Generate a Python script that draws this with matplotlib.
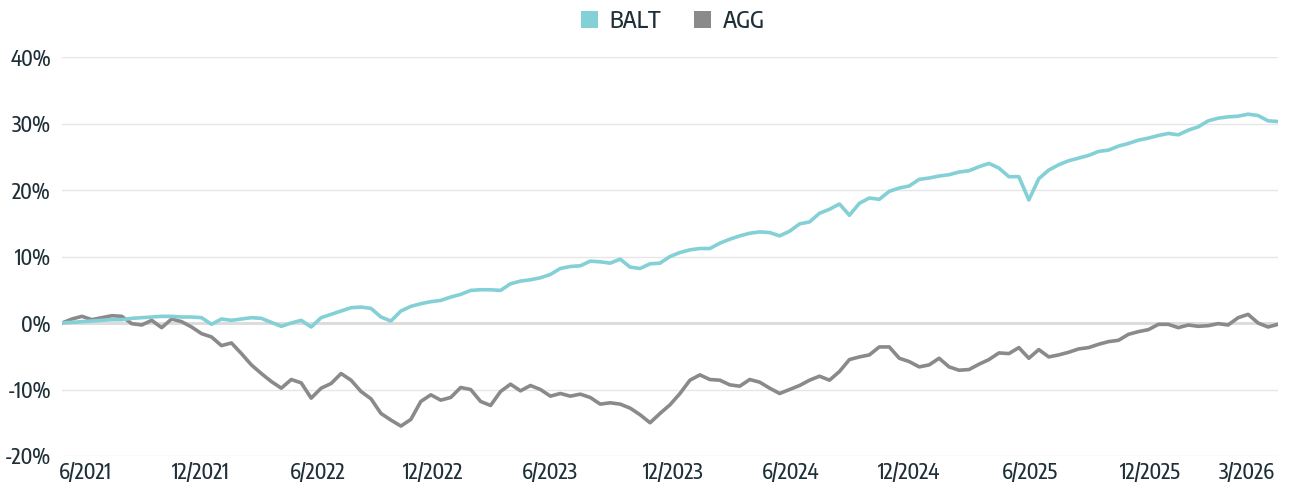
import matplotlib
matplotlib.use("Agg")
import matplotlib.pyplot as plt
from matplotlib import font_manager
import numpy as np
from matplotlib.patches import Patch

# ---- data (cumulative return, %) sampled evenly across the period ----
balt = [0.0, 0.1, 0.2, 0.3, 0.4, 0.5, 0.5, 0.7, 0.8, 0.9,
        1.0, 1.0, 0.9, 0.9, 0.8, -0.2, 0.6, 0.4, 0.6, 0.8,
        0.7, 0.1, -0.5, 0.0, 0.4, -0.6, 0.8, 1.3, 1.8, 2.3,
        2.4, 2.2, 0.9, 0.3, 1.8, 2.5, 2.9, 3.2, 3.4, 3.9,
        4.3, 4.9, 5.0, 5.0, 4.9, 5.9, 6.3, 6.5, 6.8, 7.3,
        8.2, 8.5, 8.6, 9.3, 9.2, 9.0, 9.6, 8.4, 8.2, 8.9,
        9.0, 10.0, 10.6, 11.0, 11.2, 11.2, 12.0, 12.6, 13.1, 13.5,
        13.7, 13.6, 13.1, 13.8, 14.9, 15.2, 16.5, 17.1, 17.9, 16.2,
        18.0, 18.8, 18.6, 19.8, 20.3, 20.6, 21.6, 21.8, 22.1, 22.3,
        22.7, 22.9, 23.5, 24.0, 23.3, 22.0, 22.0, 18.5, 21.7, 23.0,
        23.8, 24.4, 24.8, 25.2, 25.8, 26.0, 26.6, 27.0, 27.5, 27.8,
        28.2, 28.5, 28.3, 29.0, 29.5, 30.4, 30.8, 31.0, 31.1, 31.4,
        31.2, 30.4, 30.3]

agg = [0.0, 0.6, 1.0, 0.5, 0.8, 1.1, 1.0, -0.1, -0.3, 0.4,
       -0.7, 0.6, 0.2, -0.6, -1.6, -2.1, -3.4, -3.0, -4.6, -6.3,
       -7.6, -8.8, -9.8, -8.5, -9.0, -11.3, -9.8, -9.1, -7.6, -8.6,
       -10.3, -11.4, -13.6, -14.6, -15.5, -14.5, -11.8, -10.8, -11.6, -11.2,
       -9.7, -10.0, -11.8, -12.4, -10.3, -9.2, -10.2, -9.4, -10.0, -11.0,
       -10.6, -11.0, -10.7, -11.2, -12.2, -12.0, -12.2, -12.8, -13.8, -15.0,
       -13.6, -12.3, -10.6, -8.6, -7.8, -8.5, -8.6, -9.3, -9.5, -8.5,
       -8.9, -9.8, -10.6, -10.0, -9.4, -8.6, -8.0, -8.6, -7.3, -5.5,
       -5.1, -4.8, -3.6, -3.6, -5.3, -5.8, -6.6, -6.3, -5.3, -6.6,
       -7.1, -7.0, -6.2, -5.5, -4.5, -4.6, -3.7, -5.3, -4.0, -5.1,
       -4.8, -4.4, -3.9, -3.7, -3.2, -2.8, -2.6, -1.7, -1.3, -1.0,
       -0.2, -0.2, -0.7, -0.3, -0.5, -0.4, -0.1, -0.3, 0.8, 1.3,
       0.0, -0.6, -0.2]

tick_labels = ["6/2021", "12/2021", "6/2022", "12/2022", "6/2023", "12/2023",
               "6/2024", "12/2024", "6/2025", "12/2025", "3/2026"]
tick_pos = [2.3, 13.95, 25.7, 37.2, 48.95, 61.3, 73.15, 85.0, 97.1, 109.15, 118.9]
y_ticks = [-20, -10, 0, 10, 20, 30, 40]

series_names = ["BALT", "AGG"]
colors = ["#83D0D6", "#8A8A8A"]

# ---- pick a condensed sans font if one is installed (prefer medium weight) ----
def wnum(w):
    names = {"normal": 400, "regular": 400, "book": 400, "medium": 500,
             "semibold": 600, "demibold": 600, "bold": 700}
    try:
        return int(w)
    except (TypeError, ValueError):
        return names.get(str(w).lower(), 400)

cands = []
for f in font_manager.fontManager.ttflist:
    nm = f.name.lower()
    is_cond = ("narrow" in nm or "condensed" in nm or
               str(f.stretch) in ("condensed", "semi-condensed"))
    if is_cond and "sans" in nm and f.style == "normal" and "extra" not in f.fname.lower() \
            and "ultra" not in f.fname.lower():
        cands.append(f)
cond = None
for pref in (500, 600, 400):
    for f in cands:
        if wnum(f.weight) == pref:
            cond = f
            break
    if cond is not None:
        break

if cond is not None:
    tick_fp = font_manager.FontProperties(fname=cond.fname, size=15)
    leg_fp = font_manager.FontProperties(fname=cond.fname, size=17)
else:
    tick_fp = font_manager.FontProperties(family=["Lato", "DejaVu Sans"], size=14)
    leg_fp = font_manager.FontProperties(family=["Lato", "DejaVu Sans"], size=16)

text_color = "#1E2F38"

fig = plt.figure(figsize=(12.95, 4.9), dpi=100)
ax = fig.add_axes([62 / 1295, 1 - 456 / 490, (1278 - 62) / 1295, (456 - 57) / 490])

x = np.arange(len(balt))
ax.plot(x, agg, color=colors[1], lw=2.6, zorder=3, solid_joinstyle="round")
ax.plot(x, balt, color=colors[0], lw=2.6, zorder=4, solid_joinstyle="round")

ax.set_xlim(0, len(balt) - 1)
ax.set_ylim(-20, 40)
ax.set_yticks(y_ticks)
ax.set_yticklabels([f"{v}%" for v in y_ticks], fontproperties=tick_fp, color=text_color)
ax.set_xticks(tick_pos)
ax.set_xticklabels(tick_labels, fontproperties=tick_fp, color=text_color)

for v in y_ticks:
    if v == 0:
        ax.axhline(v, color="#DCDCDC", lw=2.2, zorder=1)
    else:
        ax.axhline(v, color="#E6E6E6", lw=1.0, zorder=1)

for s in ax.spines.values():
    s.set_visible(False)
ax.tick_params(axis="both", length=0)
ax.tick_params(axis="y", pad=8)
ax.tick_params(axis="x", pad=4)

handles = [Patch(facecolor=c, edgecolor="none") for c in colors]
leg = fig.legend(handles, series_names, loc="center", bbox_to_anchor=(673 / 1295, 1 - 21 / 490),
                 ncol=2, frameon=False, prop=leg_fp, handlelength=0.7, handleheight=0.7,
                 handletextpad=0.5, columnspacing=1.4)
for t in leg.get_texts():
    t.set_color(text_color)

fig.savefig("out.png", dpi=100)
